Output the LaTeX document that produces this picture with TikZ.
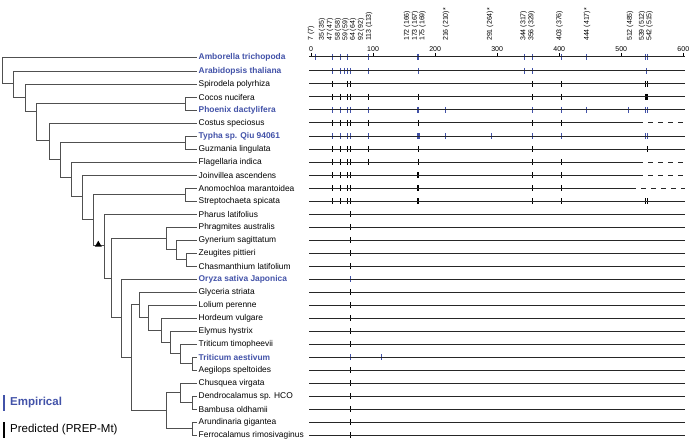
\documentclass[tikz,border=0pt]{standalone}
\usepackage{fontspec}
\setmainfont{Liberation Sans}
\usetikzlibrary{positioning}
\usetikzlibrary{shapes.geometric}
\definecolor{empblue}{RGB}{66,82,168}
\definecolor{treegray}{RGB}{80,80,80}
\tikzset{
	branch/.style={draw=treegray, line width=0.9pt},
	leaf/.style={anchor=west, inner sep=1.5pt, font=\fontsize{8.4}{9}\selectfont},
	emp/.style={leaf, text=empblue, font=\fontsize{8.4}{9}\selectfont\bfseries},
	track/.style={draw=black!85, line width=1pt},
	sitemark/.style={line width=0.8pt},
	poslabel/.style={rotate=90, anchor=west, inner sep=0pt, font=\fontsize{7}{8}\selectfont},
	axislabel/.style={inner sep=0pt, font=\fontsize{7}{8}\selectfont},
	legendtext/.style={anchor=west, inner sep=0pt, font=\fontsize{11.5}{13}\selectfont},
	clademark/.style={regular polygon, regular polygon sides=3, fill=black, inner sep=0pt, minimum size=8pt}
}
\begin{document}
\begin{tikzpicture}[x=1pt, y=-1pt]
	\useasboundingbox (0,0) rectangle (690,441);
	
	% Taxa
	\node[emp] (amb) at (197,57) {Amborella trichopoda};
	\node[emp] (arab) at (197,71) {Arabidopsis thaliana};
	\node[leaf] (spir) at (197,84) {Spirodela polyrhiza};
	\node[leaf] (coco) at (197,97) {Cocos nucifera};
	\node[emp] (phoe) at (197,110) {Phoenix dactylifera};
	\node[leaf] (cost) at (197,123) {Costus speciosus};
	\node[emp] (typh) at (197,136) {Typha sp. Qiu 94061};
	\node[leaf] (guzm) at (197,149) {Guzmania lingulata};
	\node[leaf] (flag) at (197,162) {Flagellaria indica};
	\node[leaf] (join) at (197,175) {Joinvillea ascendens};
	\node[leaf] (anom) at (197,188) {Anomochloa marantoidea};
	\node[leaf] (stre) at (197,201) {Streptochaeta spicata};
	\node[leaf] (phar) at (197,214) {Pharus latifolius};
	\node[leaf] (phra) at (197,227) {Phragmites australis};
	\node[leaf] (gyne) at (197,240) {Gynerium sagittatum};
	\node[leaf] (zeug) at (197,253) {Zeugites pittieri};
	\node[leaf] (chas) at (197,266) {Chasmanthium latifolium};
	\node[emp] (oryz) at (197,279) {Oryza sativa Japonica};
	\node[leaf] (glyc) at (197,292) {Glyceria striata};
	\node[leaf] (loli) at (197,305) {Lolium perenne};
	\node[leaf] (hord) at (197,318) {Hordeum vulgare};
	\node[leaf] (elym) at (197,331) {Elymus hystrix};
	\node[leaf] (ttim) at (197,344) {Triticum timopheevii};
	\node[emp] (taes) at (197,357) {Triticum aestivum};
	\node[leaf] (aegi) at (197,370) {Aegilops speltoides};
	\node[leaf] (chus) at (197,383) {Chusquea virgata};
	\node[leaf] (dend) at (197,396) {Dendrocalamus sp. HCO};
	\node[leaf] (bamb) at (197,409) {Bambusa oldhamii};
	\node[leaf] (arun) at (197,422) {Arundinaria gigantea};
	\node[leaf] (ferr) at (197,435) {Ferrocalamus rimosivaginus};
	
	% Internal nodes
	\coordinate (root) at (2.7,70);
	\coordinate (n2) at (13.3,83.5);
	\coordinate (n3) at (25,97);
	\coordinate (n4) at (36.7,111.5);
	\coordinate (ncoco) at (185,103.5);
	\coordinate (n5) at (49.3,140);
	\coordinate (n6) at (60,159);
	\coordinate (ntyph) at (185,142.5);
	\coordinate (n7) at (71,177.5);
	\coordinate (n8) at (82.7,196);
	\coordinate (n9) at (93.3,219.8);
	\coordinate (nanom) at (185,194.5);
	\coordinate (nphar) at (104,245.8);
	\coordinate (nbp) at (111.7,278);
	\coordinate (npac) at (166,238.5);
	\coordinate (ngyne) at (176,249.8);
	\coordinate (nzeug) at (186,259.5);
	\coordinate (nbop) at (121.7,317.5);
	\coordinate (npb) at (131,357);
	\coordinate (nglyc) at (139.3,304.8);
	\coordinate (nloli) at (148.3,317.6);
	\coordinate (nhord) at (161,330.2);
	\coordinate (nelym) at (170,342.4);
	\coordinate (nttim) at (180,353.8);
	\coordinate (ntaes) at (192.7,363.5);
	\coordinate (nbamb) at (166.7,410);
	\coordinate (nchus) at (180,392.8);
	\coordinate (ndend) at (192.7,402.5);
	\coordinate (narun) at (192.7,428.5);
	
	% Branches
	\draw[branch] (root) |- (amb.west);
	\draw[branch] (root) |- (n2);
	\draw[branch] (n2) |- (arab.west);
	\draw[branch] (n2) |- (n3);
	\draw[branch] (n3) |- (spir.west);
	\draw[branch] (n3) |- (n4);
	\draw[branch] (n4) |- (ncoco);
	\draw[branch] (n4) |- (n5);
	\draw[branch] (ncoco) |- (coco.west);
	\draw[branch] (ncoco) |- (phoe.west);
	\draw[branch] (n5) |- (cost.west);
	\draw[branch] (n5) |- (n6);
	\draw[branch] (n6) |- (ntyph);
	\draw[branch] (n6) |- (n7);
	\draw[branch] (ntyph) |- (typh.west);
	\draw[branch] (ntyph) |- (guzm.west);
	\draw[branch] (n7) |- (flag.west);
	\draw[branch] (n7) |- (n8);
	\draw[branch] (n8) |- (join.west);
	\draw[branch] (n8) |- (n9);
	\draw[branch] (n9) |- (nanom);
	\draw[branch] (n9) |- (nphar);
	\draw[branch] (nanom) |- (anom.west);
	\draw[branch] (nanom) |- (stre.west);
	\draw[branch] (nphar) |- (phar.west);
	\draw[branch] (nphar) |- (nbp);
	\draw[branch] (nbp) |- (npac);
	\draw[branch] (nbp) |- (nbop);
	\draw[branch] (npac) |- (phra.west);
	\draw[branch] (npac) |- (ngyne);
	\draw[branch] (ngyne) |- (gyne.west);
	\draw[branch] (ngyne) |- (nzeug);
	\draw[branch] (nzeug) |- (zeug.west);
	\draw[branch] (nzeug) |- (chas.west);
	\draw[branch] (nbop) |- (oryz.west);
	\draw[branch] (nbop) |- (npb);
	\draw[branch] (npb) |- (nglyc);
	\draw[branch] (npb) |- (nbamb);
	\draw[branch] (nglyc) |- (glyc.west);
	\draw[branch] (nglyc) |- (nloli);
	\draw[branch] (nloli) |- (loli.west);
	\draw[branch] (nloli) |- (nhord);
	\draw[branch] (nhord) |- (hord.west);
	\draw[branch] (nhord) |- (nelym);
	\draw[branch] (nelym) |- (elym.west);
	\draw[branch] (nelym) |- (nttim);
	\draw[branch] (nttim) |- (ttim.west);
	\draw[branch] (nttim) |- (ntaes);
	\draw[branch] (ntaes) |- (taes.west);
	\draw[branch] (ntaes) |- (aegi.west);
	\draw[branch] (nbamb) |- (nchus);
	\draw[branch] (nbamb) |- (narun);
	\draw[branch] (nchus) |- (chus.west);
	\draw[branch] (nchus) |- (ndend);
	\draw[branch] (ndend) |- (dend.west);
	\draw[branch] (ndend) |- (bamb.west);
	\draw[branch] (narun) |- (arun.west);
	\draw[branch] (narun) |- (ferr.west);
	
	% Marker on the grass branch
	\node[clademark] (grassmark) at (98.3,244.7) {};
	
	% Editing site labels
	\foreach \px/\txt in {311/{7 (7)}, 322/{35 (35)}, 330/{47 (47)}, 338/{58 (58)}, 345.5/{59 (59)}, 353/{64 (64)}, 361/{92 (92)}, 369/{113 (113)}, 407/{172 (166)}, 415/{173 (167)}, 422.5/{175 (169)}, 446/{216 (210)*}, 490/{291 (264)*}, 523.5/{344 (317)}, 531.5/{356 (329)}, 559.5/{403 (376)}, 587/{444 (417)*}, 630/{512 (485)}, 642/{539 (512)}, 649.5/{542 (515)}}
		\node[poslabel] at (\px,41) {\txt};
	
	% Tracks, in sequence positions
	\begin{scope}[shift={(311,0)}, x=0.6205pt]
		% axis
		\foreach \v in {0,100,...,600} {
			\node[axislabel] (ax\v) at (\v,49.5) {\v};
			\draw[sitemark] (\v,53) -- (\v,57);
		}
		\foreach \yy/\cc/\vals in {
			57/empblue/{7,35,47,58,92,172,173,344,356,403,444,539,542},
			71/empblue/{35,47,54,59,64,92,173,344,356,540},
			84/black/{35,59,64,356,403,539,542},
			97/black/{35,47,59,64,92,173,356,403,539,541,542},
			110/empblue/{35,47,59,64,92,172,173,216,356,403,444,512,539,542},
			123/black/{35,47,59,64,92,173,356,403},
			136/empblue/{35,47,59,64,92,172,173,175,216,291,356,403,539,542},
			149/black/{35,47,59,64,92,173,356,542},
			162/black/{35,47,59,64,92,173,356,403},
			175/black/{35,47,59,64,172,173,356,403},
			188/black/{35,47,59,64,172,173,356,403},
			201/black/{35,47,59,64,172,173,356,403,539,542},
			214/black/{64}, 227/black/{64}, 240/black/{64}, 253/black/{64},
			266/black/{64}, 279/empblue/{64}, 292/black/{64}, 305/black/{64},
			318/black/{64}, 331/black/{64}, 344/black/{64}, 357/empblue/{64,113},
			370/black/{64}, 383/black/{64}, 396/black/{64}, 409/black/{64},
			422/black/{64}, 435/black/{64}} {
			\foreach \v in \vals
				\draw[sitemark, draw=\cc] (\v,\yy-3) -- (\v,\yy+3);
		}
		% solid rows
		\foreach \yy in {57,71,84,97,110,136,149,201,214,227,240,253,266,279,292,305,318,331,344,357,370,383,396,409,422,435}
			\draw[track] (-2.5,\yy) -- (602,\yy);
		% rows with missing end
		\foreach \yy/\se in {123/527, 162/527, 175/527, 188/516} {
			\draw[track] (-2.5,\yy) -- (\se,\yy);
			\draw[track, dash pattern=on 5pt off 5pt] (\se,\yy) -- (602,\yy);
		}
	\end{scope}
	
	% Legend
	\node[legendtext, text=empblue, font=\fontsize{11.5}{13}\selectfont\bfseries] (legemp) at (10,403) {Empirical};
	\node[legendtext] (legpred) at (10,430) {Predicted (PREP-Mt)};
	\draw[empblue, line width=2pt] ([xshift=-6pt, yshift=8pt]legemp.west) -- ([xshift=-6pt, yshift=-8pt]legemp.west);
	\draw[black, line width=2pt] ([xshift=-6pt, yshift=8pt]legpred.west) -- ([xshift=-6pt, yshift=-8pt]legpred.west);
\end{tikzpicture}
\end{document}
